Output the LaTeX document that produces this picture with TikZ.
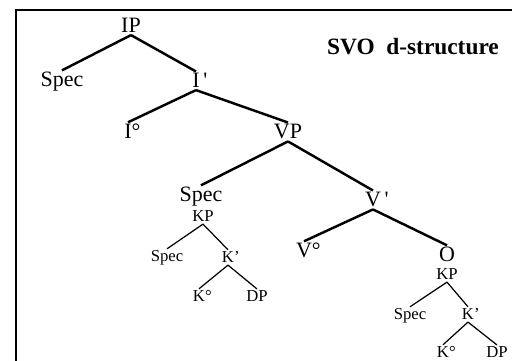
\documentclass[tikz,border=0pt]{standalone}
\usepackage{fontspec}
\setmainfont{Liberation Serif}
\begin{document}
\begin{tikzpicture}[x=0.02cm,y=-0.02cm,
    lab/.style={anchor=base,inner sep=1pt,font=\fontsize{12.5}{14}\selectfont},
    sublab/.style={anchor=base,inner sep=1pt,font=\fontsize{9.5}{11}\selectfont},
    branch/.style={line width=1.4pt},
    twig/.style={line width=0.7pt}]
   \useasboundingbox (0,0) rectangle (512,361);
   \draw[line width=1.2pt] (16,361) -- (16,10) -- (512,10);
   \node[anchor=base,font=\bfseries\fontsize{13.3}{15}\selectfont] (title) at (413,55) {SVO\ \ d-structure};
   % main tree
   \node[lab] (ip) at (131,33) {IP};
   \node[lab] (spec) at (62,87) {Spec};
   \node[lab] (ibar) at (196,88) {I\rlap{\,\textquotesingle}};
   \node[lab] (ihead) at (128,139) {I\rlap{°}};
   \node[lab] (vp) at (288,139) {VP};
   \node[lab] (subj) at (201,202) {Spec};
   \node[lab] (vbar) at (373,207) {V\rlap{\,\textquotesingle}};
   \node[lab] (vhead) at (304,258) {V\rlap{°}};
   \node[lab] (obj) at (447,262) {O};
   % case phrases
   \node[sublab] (kps) at (203,222) {KP};
   \node[sublab] (kspecs) at (167,262) {Spec};
   \node[sublab] (kbars) at (228,263) {K\rlap{'}};
   \node[sublab] (kheads) at (199,302) {K\rlap{°}};
   \node[sublab] (dps) at (257,302) {DP};
   \node[sublab] (kpo) at (447,280) {KP};
   \node[sublab] (kspeco) at (410,320) {Spec};
   \node[sublab] (kbaro) at (468,320) {K\rlap{'}};
   \node[sublab] (kheado) at (443,358) {K\rlap{°}};
   \node[sublab] (dpo) at (497,358) {DP};
   \foreach \a/\b in {ip/spec,ip/ibar,ibar/ihead,ibar/vp,vp/subj,vp/vbar,vbar/vhead,vbar/obj}
     \draw[branch] (\a.south) -- (\b.north);
   \foreach \a/\b in {kps/kspecs,kps/kbars,kbars/kheads,kbars/dps,kpo/kspeco,kpo/kbaro,kbaro/kheado,kbaro/dpo}
     \draw[twig] (\a.south) -- (\b.north);
\end{tikzpicture}
\end{document}
